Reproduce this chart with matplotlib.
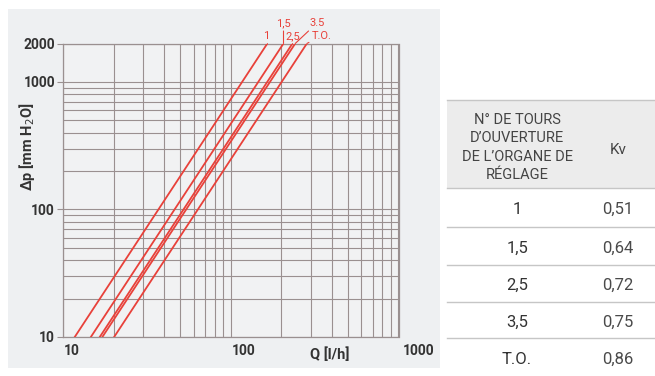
import matplotlib.pyplot as plt
from matplotlib.patches import Rectangle
from matplotlib.lines import Line2D
from matplotlib.transforms import ScaledTranslation

plt.rcParams['font.family'] = ['Roboto', 'DejaVu Sans']

# settings (turns) and Kv from the table
turns = ["1", "1,5", "2,5", "3,5", "T.O."]
kv = ["0,51", "0,64", "0,72", "0,75", "0,86"]
curve_labels = ["1", "1,5", "2,5", "3.5", "T.O."]

# flow at dp = 10 and dp = 2000 mm H2O
dp_ends = [10, 2000]
q_at_10 = [11.7, 14.6, 16.5, 17.1, 20.1]
q_at_2000 = [165, 206, 233, 242, 284]

x_ticks = [10, 100, 1000]
y_ticks = [10, 100, 1000, 2000]

red = "#e8413a"
grid_col = "#9a9090"
dark = "#333333"

fig = plt.figure(figsize=(6.55, 3.76), dpi=100)
W, H = 655, 376

# grey panel behind the chart
fig.patches.append(Rectangle((8 / W, 1 - 368 / H), 432 / W, 359 / H,
                             transform=fig.transFigure, facecolor="#eef0f2",
                             edgecolor="none", zorder=-5))

ax = fig.add_axes([63.3 / W, 1 - 337 / H, 335.2 / W, 293.5 / H], zorder=2)
ax.set_facecolor("#f1f2f3")
ax.set_xscale("log")
ax.set_yscale("log")
ax.set_xlim(10, 1000)
ax.set_ylim(10, 2000)

ax.grid(True, which="both", color=grid_col, linewidth=0.8)
for s in ax.spines.values():
    s.set_color(grid_col)
    s.set_linewidth(0.9)

for lo, hi in zip(q_at_10, q_at_2000):
    ax.plot([lo, hi], dp_ends, color=red, linewidth=1.3, zorder=3)

# curve labels with short leaders (offsets in points from the line tops)
offsets = [(-1, 2, "center"), (0, 11, "center"), (-5, 2, "left"),
           (10, 11, "left"), (3.5, 2, "left")]
for lab, hi, (dx, dy, ha) in zip(curve_labels, q_at_2000, offsets):
    ax.annotate(lab, xy=(hi, 2000), xytext=(dx, dy), textcoords="offset points",
                color=red, fontsize=8, ha=ha, va="bottom",
                arrowprops=dict(arrowstyle="-", color=red, linewidth=0.8,
                                shrinkA=0, shrinkB=0),
                annotation_clip=False)

ax.set_yticks(y_ticks)
ax.set_yticklabels([str(v) for v in y_ticks])
ax.yaxis.set_minor_formatter(plt.NullFormatter())
ax.tick_params(axis="y", which="major", length=4, color=grid_col, pad=2,
               labelsize=10, labelcolor=dark)
ax.tick_params(axis="y", which="minor", length=0)
for t in ax.get_yticklabels():
    t.set_fontweight("bold")

ax.set_xticks(x_ticks)
ax.set_xticklabels([str(v) for v in x_ticks])
ax.xaxis.set_minor_formatter(plt.NullFormatter())
ax.tick_params(axis="x", which="both", length=0, pad=5,
               labelsize=10, labelcolor=dark)
for t, dx in zip(ax.get_xticklabels(), [8, 13, 20]):
    t.set_fontweight("bold")
    t.set_transform(t.get_transform() + ScaledTranslation(dx / 100, 0, fig.dpi_scale_trans))

fig.text(27 / W, 1 - 147 / H, "Δp [mm H$_2$O]", fontsize=10.5, fontweight="bold",
         color=dark, rotation=90, ha="center", va="center")
fig.text(330 / W, 1 - 355 / H, "Q [l/h]", fontsize=10.5, fontweight="bold",
         color=dark, ha="center", va="center")

# table on the right
tx0, tx1 = 447, 655
col1, col2 = 517, 618
fig.patches.append(Rectangle((tx0 / W, 1 - 188 / H), (tx1 - tx0) / W, 88 / H,
                             transform=fig.transFigure, facecolor="#ececec",
                             edgecolor="none", zorder=-5))
header = ["N° DE TOURS", "D’OUVERTURE", "DE L’ORGANE DE", "RÉGLAGE"]
for i, line in enumerate(header):
    fig.text(col1 / W, 1 - (120 + i * 18.3) / H, line, fontsize=10.5,
             color="#444444", ha="center", va="center")
fig.text(col2 / W, 1 - 150 / H, "Kv", fontsize=11, color="#444444",
         ha="center", va="center")

row_edges = [188, 227, 265, 302, 338, 376]
for y in [100] + row_edges[:-1]:
    fig.lines.append(Line2D([tx0 / W, tx1 / W], [1 - y / H, 1 - y / H],
                            transform=fig.transFigure, color="#c6c6c6",
                            linewidth=1.0))
for i, (t, k) in enumerate(zip(turns, kv)):
    yc = (row_edges[i] + row_edges[i + 1]) / 2 + 2
    fig.text(col1 / W, 1 - yc / H, t, fontsize=12, color=dark,
             ha="center", va="center")
    fig.text(col2 / W, 1 - yc / H, k, fontsize=12, color="#4a4a4a",
             ha="center", va="center")

fig.savefig("out.png", dpi=100)
